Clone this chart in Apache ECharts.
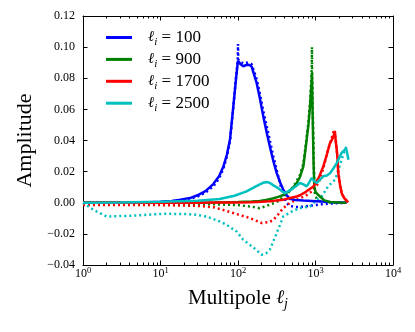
<!DOCTYPE html>
<html>
<head>
<meta charset="utf-8">
<script src="https://cdn.jsdelivr.net/npm/echarts@6/dist/echarts.min.js"></script>
<style>
  html, body { margin: 0; padding: 0; background: #fff; }
  #chart { width: 415px; height: 332px; }
</style>
</head>
<body>
<div id="chart"></div>
<script>
// multipole values and amplitudes
const ellBlue = [1, 3, 6, 10, 14, 18, 24, 30, 38, 48, 57, 65, 72, 79, 87, 94, 99, 100, 101, 108, 117, 128, 138, 150, 174, 190, 212, 235, 258, 285, 316, 350, 384, 420, 468, 550, 700, 900, 1200, 1600, 2000, 2500]
const blueSolid = [0, 0, 0.0002, 0.0006, 0.0012, 0.002, 0.003, 0.0048, 0.0075, 0.012, 0.017, 0.0235, 0.031, 0.041, 0.062, 0.079, 0.0895, 0.0912, 0.0915, 0.089, 0.0877, 0.0885, 0.0887, 0.0875, 0.077, 0.068, 0.0555, 0.045, 0.036, 0.027, 0.019, 0.013, 0.0084, 0.005, 0.0025, 0.0018, 0.0015, 0.0012, 0.0008, 0.0004, 0.0002, 0]
const blueDotted = [0, 0, 0.0001, 0.0004, 0.0009, 0.0015, 0.0025, 0.004, 0.0065, 0.0105, 0.0155, 0.022, 0.03, 0.04, 0.061, 0.08, 0.091, 0.102, 0.092, 0.0905, 0.0895, 0.09, 0.09, 0.089, 0.0795, 0.071, 0.059, 0.049, 0.04, 0.03, 0.021, 0.012, 0.005, 0, -0.002, -0.0028, -0.0025, -0.0018, -0.001, -0.0005, -0.0002, 0]

const ellGreen = [1, 10, 50, 100, 150, 190, 230, 280, 330, 384, 450, 520, 572, 630, 697, 769, 810, 850, 880, 895, 900, 905, 920, 945, 966, 1000, 1060, 1144, 1300, 1540, 2000, 2500]
const greenSolid = [0, 0, 0.0002, 0.0005, 0.0008, 0.0012, 0.0018, 0.0027, 0.0038, 0.0051, 0.0072, 0.01, 0.0127, 0.0165, 0.0233, 0.0405, 0.05, 0.062, 0.074, 0.08, 0.0834, 0.078, 0.055, 0.025, 0.0105, 0.007, 0.0055, 0.004, 0.0015, 0.0005, 0.0002, 0]
const greenDotted = [0, -0.0005, -0.001, -0.0015, -0.0025, -0.0035, -0.0022, -0.0005, 0.001, 0.004, 0.0068, 0.0105, 0.014, 0.018, 0.025, 0.042, 0.052, 0.064, 0.078, 0.088, 0.1, 0.082, 0.062, 0.032, 0.008, 0.004, 0.002, 0.001, 0.0005, 0.0002, 0, 0]

const ellRed = [1, 10, 30, 50, 87, 143, 202, 250, 286, 330, 384, 470, 572, 630, 750, 940, 1100, 1260, 1400, 1530, 1650, 1740, 1780, 1820, 1900, 1970, 2080, 2180, 2350, 2550, 2650]
const redSolid = [0, 0, 0, 0.0001, 0.0002, 0.0004, 0.0006, 0.0009, 0.0012, 0.0016, 0.002, 0.003, 0.004, 0.0048, 0.007, 0.0105, 0.016, 0.0233, 0.031, 0.038, 0.041, 0.044, 0.0459, 0.04, 0.032, 0.019, 0.011, 0.006, 0.003, 0.001, 0.0003]
const redDotted = [-0.0015, -0.0015, -0.002, -0.003, -0.0066, -0.0099, -0.013, -0.0125, -0.011, -0.0075, -0.0034, 0, 0.002, 0.003, 0.0045, 0.008, 0.013, 0.022, 0.031, 0.038, 0.043, 0.047, 0.048, 0.041, 0.031, 0.02, 0.011, 0.006, 0.003, 0.001, 0.0003]

const ellCyanSolid = [1, 3, 10, 30, 58, 90, 129, 170, 210, 239, 258, 290, 330, 370, 402, 450, 517, 570, 630, 700, 769, 830, 890, 960, 1040, 1150, 1260, 1400, 1540, 1700, 1880, 2030, 2170, 2330, 2480, 2560, 2660]
const cyanSolid = [0, 0.0002, 0.0006, 0.0013, 0.0024, 0.0045, 0.0073, 0.0105, 0.0128, 0.0133, 0.0127, 0.011, 0.0094, 0.0073, 0.0062, 0.0075, 0.0094, 0.011, 0.0127, 0.0118, 0.0105, 0.013, 0.0159, 0.014, 0.0127, 0.015, 0.017, 0.0175, 0.019, 0.022, 0.0255, 0.029, 0.032, 0.0335, 0.035, 0.032, 0.0277]
const ellCyanDotted = [1, 1.36, 2.02, 4.04, 10.9, 20, 29, 40, 58, 71, 96, 117, 160, 202, 230, 258, 316, 384, 495, 630, 850, 1040, 1200, 1450, 1800, 2170, 2400, 2500]
const cyanDotted = [0, -0.0045, -0.0088, -0.0084, -0.0071, -0.0072, -0.0077, -0.009, -0.012, -0.0141, -0.0185, -0.0238, -0.029, -0.0334, -0.0325, -0.03, -0.0195, -0.0088, -0.0056, -0.0034, -0.0024, 0.002, 0.004, 0.0105, 0.015, 0.0277, 0.034, 0.036]

const ellInit = ['100', '900', '1700', '2500']
const colors = ['#0000ff', '#008000', '#ff0000', '#00bfbf']
const majorTicks = [1, 10, 100, 1000, 10000]

let minorTicks = []
for (let k = 0; k < 4; k++) {
  for (let m = 2; m <= 9; m++) minorTicks.push(m * Math.pow(10, k))
}

const serif = 'Liberation Serif'

function zip(xs, ys) {
  return xs.map((x, i) => [x, ys[i]])
}

function lineSeries(name, xs, ys, color, dotted) {
  return {
    name: name,
    type: 'line',
    data: zip(xs, ys),
    symbol: 'none',
    smooth: false,
    lineStyle: {
      color: color,
      width: 2.5,
      type: dotted ? [2, 3] : 'solid'
    },
    itemStyle: { color: color },
    z: dotted ? 3 : 4
  }
}

const names = ellInit.map(v => 'ℓi = ' + v)

function xAxisFor(position, ticks, len, showLine, showLabel) {
  return {
    type: 'log',
    logBase: 10,
    min: 1,
    max: 10000,
    position: position,
    axisLine: { show: showLine, onZero: false, lineStyle: { color: '#000', width: 1 } },
    axisTick: { show: true, inside: true, length: len, customValues: ticks, lineStyle: { color: '#000', width: 1 } },
    axisLabel: {
      show: showLabel,
      customValues: majorTicks,
      margin: 1,
      formatter: v => '{b|10}{s|' + Math.round(Math.log10(v)) + '}',
      rich: {
        b: { fontFamily: serif, fontSize: 12, color: '#000', lineHeight: 15 },
        s: { fontFamily: serif, fontSize: 8.5, color: '#000', verticalAlign: 'top', lineHeight: 9 }
      }
    },
    splitLine: { show: false },
    minorTick: { show: false }
  }
}

const chart = echarts.init(document.getElementById('chart'))

const xMain = xAxisFor('bottom', majorTicks, 4.5, true, true)
xMain.name = '{t|Multipole }{l|ℓ}{s|j}'
xMain.nameLocation = 'middle'
xMain.nameGap = 20
xMain.nameTextStyle = {
  rich: {
    t: { fontFamily: serif, fontSize: 21, color: '#000', lineHeight: 26 },
    l: { fontFamily: 'DejaVu Serif', fontStyle: 'italic', fontSize: 19, color: '#000', lineHeight: 26 },
    s: { fontFamily: serif, fontStyle: 'italic', fontSize: 14, color: '#000', verticalAlign: 'bottom', lineHeight: 14 }
  }
}

function yAxisFor(position, showLabel) {
  return {
    type: 'value',
    min: -0.04,
    max: 0.12,
    interval: 0.02,
    position: position,
    axisLine: { show: true, onZero: false, lineStyle: { color: '#000', width: 1 } },
    axisTick: { show: true, inside: true, length: 4.5, lineStyle: { color: '#000', width: 1 } },
    axisLabel: {
      show: showLabel,
      margin: 8,
      fontFamily: serif,
      fontSize: 12,
      color: '#000',
      formatter: v => (v < 0 ? '−' : '') + Math.abs(v).toFixed(2)
    },
    splitLine: { show: false }
  }
}

const yMain = yAxisFor('left', true)
yMain.name = 'Amplitude'
yMain.nameLocation = 'middle'
yMain.nameGap = 46
yMain.nameTextStyle = { fontFamily: serif, fontSize: 22, color: '#000' }

const series = [
  lineSeries(names[0], ellBlue, blueSolid, colors[0], false),
  lineSeries('b_dot', ellBlue, blueDotted, colors[0], true),
  lineSeries(names[1], ellGreen, greenSolid, colors[1], false),
  lineSeries('g_dot', ellGreen, greenDotted, colors[1], true),
  lineSeries(names[2], ellRed, redSolid, colors[2], false),
  lineSeries('r_dot', ellRed, redDotted, colors[2], true),
  lineSeries(names[3], ellCyanSolid, cyanSolid, colors[3], false),
  lineSeries('c_dot', ellCyanDotted, cyanDotted, colors[3], true)
]

chart.setOption({
  animation: false,
  grid: { left: 83, right: 22, top: 16, bottom: 67 },
  legend: {
    data: names,
    orient: 'vertical',
    left: 101,
    top: 24,
    icon: 'rect',
    itemWidth: 26,
    itemHeight: 3,
    itemGap: 3.4,
    formatter: name => '{l|ℓ}{s|i}{t| = ' + name.split('= ')[1] + '}',
    textStyle: {
      padding: [0, 0, 0, 11],
      rich: {
        l: { fontFamily: 'DejaVu Serif', fontStyle: 'italic', fontSize: 15, color: '#000', lineHeight: 20 },
        s: { fontFamily: serif, fontStyle: 'italic', fontSize: 11, color: '#000', verticalAlign: 'bottom', lineHeight: 12 },
        t: { fontFamily: serif, fontSize: 17, color: '#000', lineHeight: 20 }
      }
    }
  },
  xAxis: [
    xMain,
    xAxisFor('bottom', minorTicks, 2.5, false, false),
    xAxisFor('top', majorTicks, 4.5, true, false),
    xAxisFor('top', minorTicks, 2.5, false, false)
  ],
  yAxis: [yMain, yAxisFor('right', false)],
  series: series
})
</script>
</body>
</html>
